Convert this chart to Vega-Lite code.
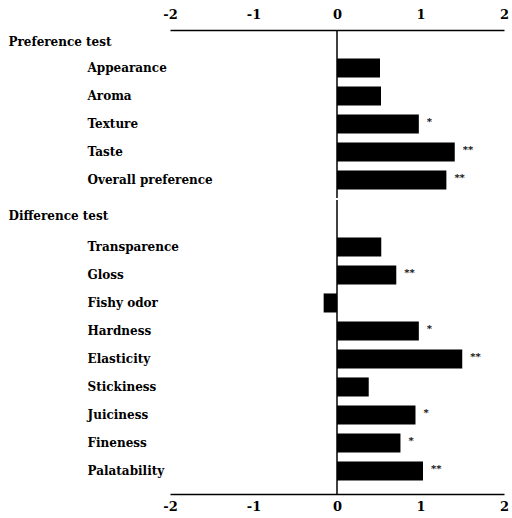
{
  "$schema": "https://vega.github.io/schema/vega-lite/v6.json",
  "padding": {"left": 8, "top": 8, "right": 4, "bottom": 4},
  "spacing": 0,
  "config": {
    "view": {"stroke": null},
    "font": "DejaVu Serif",
    "axis": {"grid": false, "domainColor": "black", "labelColor": "black", "titleColor": "black"}
  },
  "datasets": {
    "ratings": [
      {"test": "Preference test", "attribute": "Appearance", "value": 0.515, "sig": ""},
      {"test": "Preference test", "attribute": "Aroma", "value": 0.527, "sig": ""},
      {"test": "Preference test", "attribute": "Texture", "value": 0.98, "sig": "*"},
      {"test": "Preference test", "attribute": "Taste", "value": 1.41, "sig": "**"},
      {"test": "Preference test", "attribute": "Overall preference", "value": 1.31, "sig": "**"},
      {"test": "Difference test", "attribute": "Transparence", "value": 0.53, "sig": ""},
      {"test": "Difference test", "attribute": "Gloss", "value": 0.71, "sig": "**"},
      {"test": "Difference test", "attribute": "Fishy odor", "value": -0.16, "sig": ""},
      {"test": "Difference test", "attribute": "Hardness", "value": 0.98, "sig": "*"},
      {"test": "Difference test", "attribute": "Elasticity", "value": 1.5, "sig": "**"},
      {"test": "Difference test", "attribute": "Stickiness", "value": 0.38, "sig": ""},
      {"test": "Difference test", "attribute": "Juiciness", "value": 0.94, "sig": "*"},
      {"test": "Difference test", "attribute": "Fineness", "value": 0.76, "sig": "*"},
      {"test": "Difference test", "attribute": "Palatability", "value": 1.03, "sig": "**"}
    ]
  },
  "vconcat": [
    {
      "width": 334,
      "height": 168,
      "layer": [
        {
          "data": {"name": "ratings"},
          "transform": [{"filter": "datum.test === 'Preference test'"}],
          "mark": {"type": "bar", "color": "black"},
          "encoding": {
            "x": {"field": "value", "type": "quantitative",
              "scale": {"domain": [-2, 2], "nice": false},
              "axis": {"orient": "top", "values": [-2, -1, 0, 1, 2], "title": null, "ticks": false, "labelPadding": 9, "labelFlush": false,
                "labelFontSize": 13, "labelFontWeight": "bold", "domainWidth": 1.5, "labelExpr": "'' + datum.value"}},
            "y": {"field": "attribute", "type": "nominal", "sort": null, "title": "Preference test",
              "scale": {"paddingInner": 0.32, "paddingOuter": 0.66, "align": 0.77},
              "axis": {"domain": false, "ticks": false, "labelAlign": "left", "labelPadding": 83, "labelFontSize": 12, "labelFontWeight": "bold",
                "titleAngle": 0, "titleAlign": "left", "titleBaseline": "middle", "titleX": -162, "titleY": 11, "titleFontSize": 12, "titleFontWeight": "bold"}}
          }
        },
        {
          "data": {"name": "ratings"},
          "transform": [{"filter": "datum.test === 'Preference test'"}],
          "mark": {"type": "text", "align": "left", "baseline": "middle", "dx": 8, "dy": -2, "fontSize": 10, "fontWeight": "bold", "color": "black"},
          "encoding": {
            "x": {"field": "value", "type": "quantitative"},
            "y": {"field": "attribute", "type": "nominal", "sort": null},
            "text": {"field": "sig"}
          }
        },
        {
          "data": {"values": [{}]},
          "mark": {"type": "rule", "color": "black", "strokeWidth": 1.5},
          "encoding": {"x": {"datum": 0}}
        }
      ]
    },
    {
      "width": 334,
      "height": 294,
      "layer": [
        {
          "data": {"name": "ratings"},
          "transform": [{"filter": "datum.test === 'Difference test'"}],
          "mark": {"type": "bar", "color": "black"},
          "encoding": {
            "x": {"field": "value", "type": "quantitative",
              "scale": {"domain": [-2, 2], "nice": false},
              "axis": {"orient": "bottom", "values": [-2, -1, 0, 1, 2], "title": null, "ticks": false, "labelPadding": 6, "labelFlush": false,
                "labelFontSize": 13, "labelFontWeight": "bold", "domainWidth": 1.5, "labelExpr": "'' + datum.value"}},
            "y": {"field": "attribute", "type": "nominal", "sort": null, "title": "Difference test",
              "scale": {"paddingInner": 0.32, "paddingOuter": 0.91, "align": 0.735},
              "axis": {"domain": false, "ticks": false, "labelAlign": "left", "labelPadding": 83, "labelFontSize": 12, "labelFontWeight": "bold",
                "titleAngle": 0, "titleAlign": "left", "titleBaseline": "middle", "titleX": -162, "titleY": 15, "titleFontSize": 12, "titleFontWeight": "bold"}}
          }
        },
        {
          "data": {"name": "ratings"},
          "transform": [{"filter": "datum.test === 'Difference test'"}],
          "mark": {"type": "text", "align": "left", "baseline": "middle", "dx": 8, "dy": -2, "fontSize": 10, "fontWeight": "bold", "color": "black"},
          "encoding": {
            "x": {"field": "value", "type": "quantitative"},
            "y": {"field": "attribute", "type": "nominal", "sort": null},
            "text": {"field": "sig"}
          }
        },
        {
          "data": {"values": [{}]},
          "mark": {"type": "rule", "color": "black", "strokeWidth": 1.5},
          "encoding": {"x": {"datum": 0}}
        }
      ]
    }
  ]
}
